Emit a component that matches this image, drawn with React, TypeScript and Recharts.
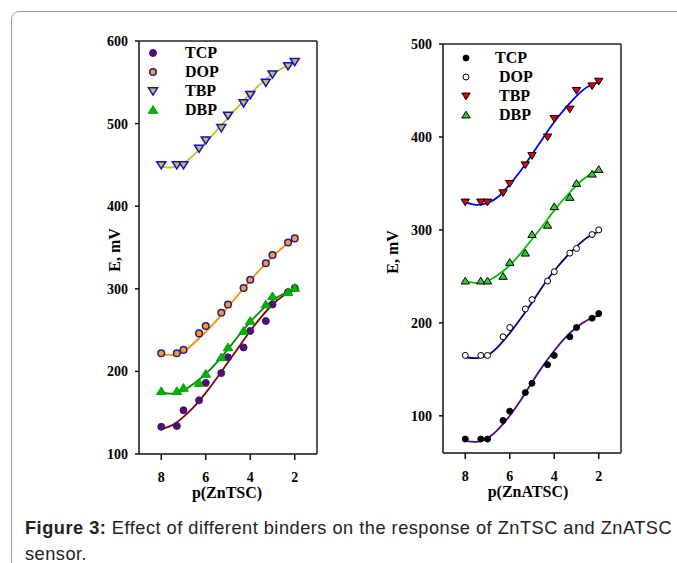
import React from 'react';
import { ComposedChart, Line, Scatter, XAxis, YAxis, ReferenceLine } from 'recharts';

// measured x positions (p values) and fitted-curve sample positions
const pointX = [8, 7.3, 7, 6.3, 6, 5.3, 5, 4.3, 4, 3.3, 3, 2.3, 2];
const fitX = [8, 7.5, 7, 6.5, 6, 5.5, 5, 4.5, 4, 3.5, 3, 2.5, 2];
const xTicks = [8, 6, 4, 2];

// ZnTSC panel
const znTscTicks = [100, 200, 300, 400, 500, 600];
const znTscTCP = [133, 134, 153, 165, 186, 198, 217, 229, 249, 261, 281, 296, 301];
const znTscDOP = [222, 222, 226, 246, 255, 271, 281, 301, 311, 331, 341, 356, 361];
const znTscTBP = [450, 450, 450, 470, 480, 495, 510, 525, 535, 550, 560, 570, 575];
const znTscDBP = [176, 176, 180, 186, 197, 217, 229, 249, 261, 281, 291, 296, 301];
const znTscTCPFit = [130, 135, 145, 158, 174, 192, 211, 230, 249, 266, 281, 292, 299];
const znTscDOPFit = [221, 220, 224, 235, 248, 262, 278, 294, 310, 325, 339, 351, 361];
const znTscTBPFit = [448, 447, 452, 463, 477, 492, 507, 522, 536, 549, 560, 568, 574];
const znTscDBPFit = [175, 173, 177, 186, 197, 211, 227, 244, 260, 274, 286, 294, 299];

// ZnATSC panel
const znAtscTicks = [100, 200, 300, 400, 500];
const znAtscTCP = [75, 75, 75, 95, 105, 125, 135, 155, 165, 185, 195, 205, 210];
const znAtscDOP = [165, 165, 165, 185, 195, 215, 225, 245, 255, 275, 280, 295, 300];
const znAtscTBP = [330, 330, 330, 340, 350, 370, 380, 400, 420, 430, 450, 455, 460];
const znAtscDBP = [245, 245, 245, 250, 265, 275, 295, 305, 325, 335, 350, 360, 365];
const znAtscTCPFit = [73, 72, 76, 86, 100, 117, 136, 154, 170, 184, 195, 203, 208];
const znAtscDOPFit = [163, 162, 165, 175, 189, 205, 222, 240, 256, 270, 282, 292, 298];
const znAtscTBPFit = [330, 327, 329, 336, 349, 364, 381, 399, 416, 431, 444, 454, 459];
const znAtscDBPFit = [245, 243, 245, 252, 262, 275, 290, 305, 321, 335, 348, 358, 365];

const binders = ['TCP', 'DOP', 'TBP', 'DBP'];

const toPts = (xs: number[], ys: number[]) => xs.map((x, i) => ({ x, y: ys[i] }));

type Kind = 'circle' | 'up' | 'down';
interface MarkStyle { kind: Kind; fill: string; stroke: string; size: number; sw: number }

const Marker = ({ cx, cy, m }: { cx: number; cy: number; m: MarkStyle }) => {
  const s = m.size;
  if (m.kind === 'circle') {
    return <circle cx={cx} cy={cy} r={s} fill={m.fill} stroke={m.stroke} strokeWidth={m.sw} />;
  }
  const pts =
    m.kind === 'down'
      ? `${cx - s},${cy - s * 0.7} ${cx + s},${cy - s * 0.7} ${cx},${cy + s * 0.9}`
      : `${cx - s},${cy + s * 0.7} ${cx + s},${cy + s * 0.7} ${cx},${cy - s * 0.9}`;
  return <polygon points={pts} fill={m.fill} stroke={m.stroke} strokeWidth={m.sw} />;
};

interface Series { name: string; points: number[]; fit: number[]; line: string; mark: MarkStyle }

const leftSeries: Series[] = [
  { name: 'TBP', points: znTscTBP, fit: znTscTBPFit, line: '#c4c41c', mark: { kind: 'down', fill: '#d8c800', stroke: '#0a0aff', size: 4.5, sw: 1.5 } },
  { name: 'DOP', points: znTscDOP, fit: znTscDOPFit, line: '#ff8c00', mark: { kind: 'circle', fill: '#ff9a1a', stroke: '#1c1ca0', size: 3.3, sw: 1.5 } },
  { name: 'TCP', points: znTscTCP, fit: znTscTCPFit, line: '#8b0000', mark: { kind: 'circle', fill: '#5c0a6a', stroke: '#2a1a8a', size: 3.5, sw: 1 } },
  { name: 'DBP', points: znTscDBP, fit: znTscDBPFit, line: '#008a00', mark: { kind: 'up', fill: '#00b400', stroke: '#00a000', size: 4.8, sw: 1 } },
];

const rightSeries: Series[] = [
  { name: 'TBP', points: znAtscTBP, fit: znAtscTBPFit, line: '#0000ff', mark: { kind: 'down', fill: '#e00000', stroke: '#000', size: 4.2, sw: 1 } },
  { name: 'DBP', points: znAtscDBP, fit: znAtscDBPFit, line: '#00c000', mark: { kind: 'up', fill: '#33cc33', stroke: '#000', size: 4.2, sw: 1 } },
  { name: 'DOP', points: znAtscDOP, fit: znAtscDOPFit, line: '#000080', mark: { kind: 'circle', fill: '#fff', stroke: '#000', size: 3, sw: 1 } },
  { name: 'TCP', points: znAtscTCP, fit: znAtscTCPFit, line: '#4b0a8c', mark: { kind: 'circle', fill: '#000', stroke: '#000', size: 3, sw: 1 } },
];

const serif = '"Liberation Serif", "Times New Roman", serif';
const tickStyle = { fontFamily: serif, fontWeight: 700, fontSize: 14, fill: '#000' };

interface PanelProps {
  left: number;
  margin: { top: number; right: number; bottom: number; left: number };
  domain: [number, number];
  yTicks: number[];
  series: Series[];
}

const Panel = ({ left, margin, domain, yTicks, series }: PanelProps) => (
  <div style={{ position: 'absolute', left, top: 0 }}>
    <ComposedChart width={330} height={520} margin={margin}>
      <XAxis
        type="number"
        dataKey="x"
        domain={[1, 9]}
        reversed
        ticks={xTicks}
        height={30}
        tick={tickStyle}
        tickSize={6}
        tickMargin={12}
        stroke="#111"
        strokeWidth={1.5}
        allowDataOverflow
      />
      <YAxis
        type="number"
        dataKey="y"
        domain={domain}
        ticks={yTicks}
        width={40}
        tick={tickStyle}
        tickSize={4}
        tickMargin={7}
        stroke="#111"
        strokeWidth={1.5}
        allowDataOverflow
      />
      <ReferenceLine y={domain[1]} stroke="#222" strokeWidth={1.5} />
      <ReferenceLine x={1} stroke="#222" strokeWidth={1.5} />
      {series.map((s) => (
        <Line
          key={'f' + s.name}
          data={toPts(fitX, s.fit)}
          dataKey="y"
          type="natural"
          stroke={s.line}
          strokeWidth={1.8}
          dot={false}
          isAnimationActive={false}
        />
      ))}
      {series.map((s) => (
        <Scatter
          key={'p' + s.name}
          data={toPts(pointX, s.points)}
          dataKey="y"
          isAnimationActive={false}
          shape={(p: any) => <Marker cx={p.cx} cy={p.cy} m={s.mark} />}
        />
      ))}
    </ComposedChart>
  </div>
);

const LegendBox = ({ left, top, series, textLeft }: { left: number; top: number; series: Series[]; textLeft: number[] }) => (
  <div style={{ position: 'absolute', left, top }}>
    {binders.map((b, i) => {
      const s = series.find((x) => x.name === b)!;
      return (
        <div key={b} style={{ position: 'absolute', top: i * 19, left: 0, height: 19, width: 80 }}>
          <svg width={16} height={16} style={{ position: 'absolute', left: -8, top: -8 }}>
            <Marker cx={8} cy={8} m={s.mark} />
          </svg>
          <span
            style={{
              position: 'absolute',
              left: textLeft[i],
              top: -10,
              fontFamily: serif,
              fontWeight: 700,
              fontSize: 16,
              lineHeight: '20px',
              whiteSpace: 'nowrap',
            }}
          >
            {b}
          </span>
        </div>
      );
    })}
  </div>
);

const labelStyle: React.CSSProperties = {
  position: 'absolute',
  fontFamily: serif,
  fontWeight: 700,
  fontSize: 16,
  whiteSpace: 'nowrap',
  lineHeight: '18px',
};

const captionStyle: React.CSSProperties = {
  position: 'absolute',
  left: 25,
  fontFamily: '"Liberation Sans", Arial, sans-serif',
  fontSize: 18.2,
  letterSpacing: 0.5,
  lineHeight: '16px',
  color: '#222',
  whiteSpace: 'nowrap',
};

export default function App() {
  return (
    <div style={{ position: 'absolute', left: 0, top: 0, width: 677, height: 563, overflow: 'hidden', background: '#fff' }}>
      <div
        style={{
          position: 'absolute',
          left: 11,
          top: 11,
          width: 720,
          height: 620,
          border: '1px solid #9a9a9a',
          borderRadius: 8,
        }}
      />
      <Panel
        left={0}
        margin={{ top: 41, right: 13, bottom: 36, left: 99 }}
        domain={[100, 600]}
        yTicks={znTscTicks}
        series={leftSeries}
      />
      <Panel
        left={300}
        margin={{ top: 44, right: 9, bottom: 37, left: 103 }}
        domain={[60, 500]}
        yTicks={znAtscTicks}
        series={rightSeries}
      />
      <LegendBox left={153} top={53} series={leftSeries} textLeft={[32, 32, 32, 32]} />
      <LegendBox left={466} top={58} series={rightSeries} textLeft={[29, 33, 33, 33]} />

      <div style={{ ...labelStyle, left: 115, top: 250, transform: 'translate(-50%, -50%) rotate(-90deg)' }}>E, mV</div>
      <div style={{ ...labelStyle, left: 227, top: 493, transform: 'translate(-50%, -50%)' }}>p(ZnTSC)</div>
      <div style={{ ...labelStyle, left: 393, top: 252, transform: 'translate(-50%, -50%) rotate(-90deg)' }}>E, mV</div>
      <div style={{ ...labelStyle, left: 528, top: 492, transform: 'translate(-50%, -50%)' }}>p(ZnATSC)</div>

      <div style={{ ...captionStyle, top: 520 }}>
        <b>Figure 3:</b> Effect of different binders on the response of ZnTSC and ZnATSC
      </div>
      <div style={{ ...captionStyle, top: 546 }}>sensor.</div>
    </div>
  );
}
